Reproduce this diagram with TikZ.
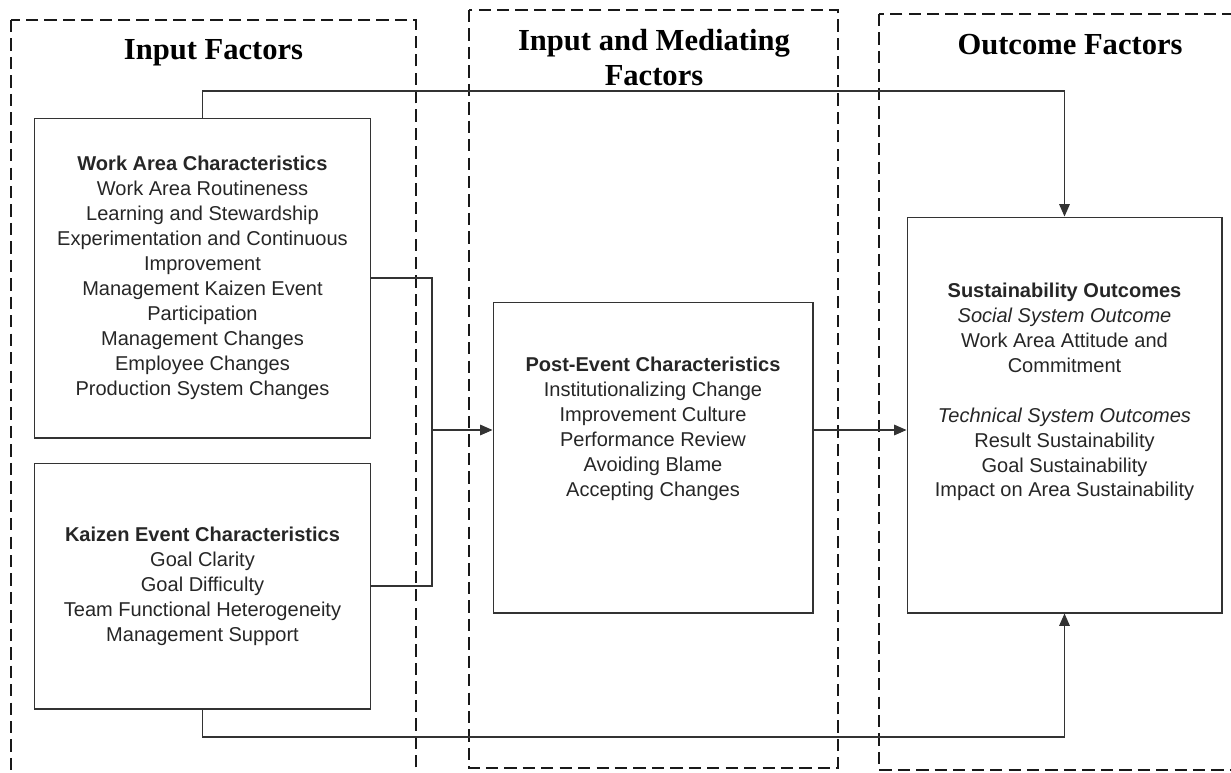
\documentclass[tikz,border=0pt]{standalone}
\usepackage{fontspec}
\setmainfont{Liberation Serif}
\setsansfont{Liberation Sans}
\usetikzlibrary{arrows.meta}
\tikzset{
    group-frame/.style = {draw=black!90, line width=1.3pt, dash pattern=on 7pt off 3.5pt},
    group-title/.style = {font=\fontsize{17.4}{19.8}\selectfont\bfseries, align=center, anchor=north, inner sep=0pt},
    factor-box/.style = {draw=black!80, line width=0.6pt, rectangle, inner sep=0pt},
    factor-text/.style = {font=\sffamily\fontsize{11.4}{14.2}\selectfont, text=black!85, align=center, inner sep=0pt},
    link/.style = {draw=black!80, line width=0.6pt},
    flow/.style = {link, -{Triangle[length=7pt,width=6pt]}},
}

\begin{document}
\begin{tikzpicture}[x=0.02cm, y=-0.02cm]
\useasboundingbox (0,0) rectangle (1231,772);
% the three dashed groups
\draw[group-frame] (11,20) rectangle (416,800);
\draw[group-frame] (469,10) rectangle (838,768);
\draw[group-frame] (879,14) rectangle (1260,770);
\node[group-title] (input-title) at (213.5,39) {Input Factors};
\node[group-title] (mediating-title) at (654,29) {Input and Mediating\\Factors};
\node[group-title] (outcome-title) at (1070,34) {Outcome Factors};

% factor boxes
\node[factor-box, factor-text, minimum width=6.74cm, minimum height=6.4cm] (work) at (202.5,278) {\textbf{Work Area Characteristics}\\Work Area Routineness\\Learning and Stewardship\\Experimentation and Continuous\\Improvement\\Management Kaizen Event\\Participation\\Management Changes\\Employee Changes\\Production System Changes};
\node[factor-box, factor-text, minimum width=6.74cm, minimum height=4.92cm] (kaizen) at (202.5,586) {\textbf{Kaizen Event Characteristics}\\Goal Clarity\\Goal Difficulty\\Team Functional Heterogeneity\\Management Support};
\node[factor-box, minimum width=6.4cm, minimum height=6.22cm] (post) at (653,457.5) {};
\node[factor-text] (post-text) at (653,429) {\textbf{Post-Event Characteristics}\\Institutionalizing Change\\Improvement Culture\\Performance Review\\Avoiding Blame\\Accepting Changes};
\node[factor-box, minimum width=6.3cm, minimum height=7.92cm] (sust) at (1064.5,415) {};
\node[factor-text] (sust-text) at (1064.5,392) {\textbf{Sustainability Outcomes}\\\textit{Social System Outcome}\\Work Area Attitude and\\Commitment\\[14.2pt]\textit{Technical System Outcomes}\\Result Sustainability\\Goal Sustainability\\Impact on Area Sustainability};

% connectors
\coordinate (top-bend) at (633,91);
\coordinate (bottom-bend) at (633,737);
\coordinate (merge) at (432,430);
\draw[flow] (work.north) |- (top-bend) -| (sust.north);
\draw[flow] (kaizen.south) |- (bottom-bend) -| (sust.south);
\draw[link] (work.east) -| (merge) |- (kaizen.east);
\draw[flow] (merge) -- (merge -| post.west);
\draw[flow] (post.east |- merge) -- (sust.west |- merge);
\end{tikzpicture}
\end{document}
